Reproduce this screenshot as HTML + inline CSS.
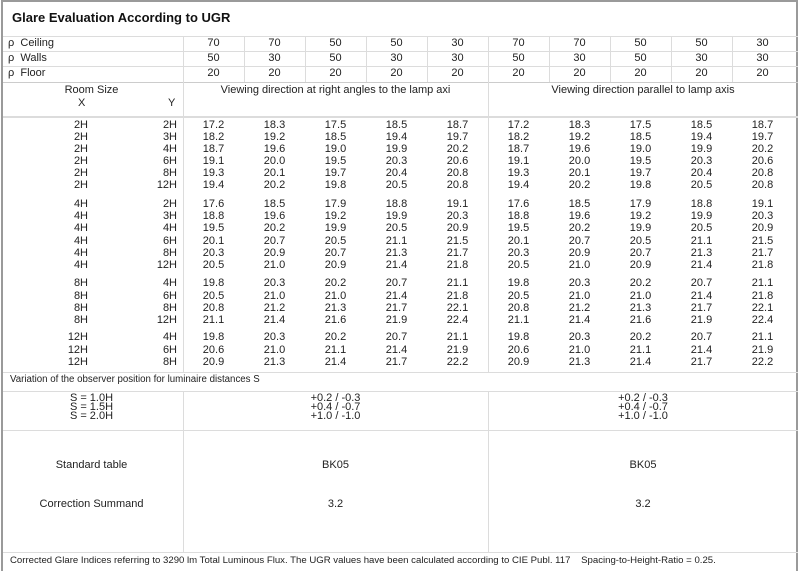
<!DOCTYPE html>
<html><head><meta charset="utf-8"><style>
*{margin:0;padding:0;box-sizing:border-box}
body{width:800px;height:571px;background:#fff;position:relative;overflow:hidden;font-family:"Liberation Sans","DejaVu Sans",sans-serif;font-size:11px;color:#222}
.a{position:absolute}
.h{position:absolute;height:1px;background:#dcdcdc}
.v{position:absolute;width:1px;background:#dcdcdc}
.r{position:absolute;left:0;height:12px;line-height:12px;display:flex;white-space:nowrap}
.x{width:88px;text-align:right}
.y{width:89px;text-align:right}
.g{width:6px}
.c{width:61px;text-align:center}
.p{position:absolute;left:0;height:15px;line-height:15px;display:flex}
.pl{width:183px;padding-left:8px}
</style></head><body>
<div class="a" style="left:1px;top:0;width:797px;height:571px;border-left:2px solid #9a9a9a;border-top:2px solid #9a9a9a;border-right:2px solid #9a9a9a"></div>
<div class="a" style="left:12px;top:10px;font-size:13px;font-weight:bold;color:#111">Glare Evaluation According to UGR</div>

<div class="h" style="left:3px;width:795px;top:36px"></div>
<div class="h" style="left:3px;width:795px;top:51px"></div>
<div class="h" style="left:3px;width:795px;top:66px"></div>
<div class="h" style="left:3px;width:795px;top:82px;background:#ccc"></div>
<div class="h" style="left:3px;width:795px;top:116px;height:2px"></div>
<div class="h" style="left:3px;width:795px;top:372px"></div>
<div class="h" style="left:3px;width:795px;top:391px"></div>
<div class="h" style="left:3px;width:795px;top:430px"></div>
<div class="h" style="left:3px;width:795px;top:552px"></div>

<div class="v" style="left:183px;top:36px;height:336px"></div>
<div class="v" style="left:488px;top:36px;height:336px"></div>
<div class="v" style="left:183px;top:391px;height:161px"></div>
<div class="v" style="left:488px;top:391px;height:161px"></div>
<div class="v" style="left:244px;top:36px;height:46px"></div>
<div class="v" style="left:305px;top:36px;height:46px"></div>
<div class="v" style="left:366px;top:36px;height:46px"></div>
<div class="v" style="left:427px;top:36px;height:46px"></div>
<div class="v" style="left:549px;top:36px;height:46px"></div>
<div class="v" style="left:610px;top:36px;height:46px"></div>
<div class="v" style="left:671px;top:36px;height:46px"></div>
<div class="v" style="left:732px;top:36px;height:46px"></div>

<div class="p" style="top:36px"><span class="pl">ρ&nbsp; Ceiling</span><span class="c">70</span><span class="c">70</span><span class="c">50</span><span class="c">50</span><span class="c">30</span><span class="c">70</span><span class="c">70</span><span class="c">50</span><span class="c">50</span><span class="c">30</span></div>
<div class="p" style="top:51px"><span class="pl">ρ&nbsp; Walls</span><span class="c">50</span><span class="c">30</span><span class="c">50</span><span class="c">30</span><span class="c">30</span><span class="c">50</span><span class="c">30</span><span class="c">50</span><span class="c">30</span><span class="c">30</span></div>
<div class="p" style="top:66px"><span class="pl">ρ&nbsp; Floor</span><span class="c">20</span><span class="c">20</span><span class="c">20</span><span class="c">20</span><span class="c">20</span><span class="c">20</span><span class="c">20</span><span class="c">20</span><span class="c">20</span><span class="c">20</span></div>

<div class="a" style="left:0;width:183px;top:84px;text-align:center">Room Size</div>
<div class="a" style="left:78px;top:97px">X</div>
<div class="a" style="left:168px;top:97px">Y</div>
<div class="a" style="left:183px;width:305px;top:84px;text-align:center">Viewing direction at right angles to the lamp axi</div>
<div class="a" style="left:488px;width:310px;top:84px;text-align:center">Viewing direction parallel to lamp axis</div>

<div class="r" style="top:119px"><span class="x">2H</span><span class="y">2H</span><span class="g"></span><span class="c">17.2</span><span class="c">18.3</span><span class="c">17.5</span><span class="c">18.5</span><span class="c">18.7</span><span class="c">17.2</span><span class="c">18.3</span><span class="c">17.5</span><span class="c">18.5</span><span class="c">18.7</span></div>
<div class="r" style="top:131px"><span class="x">2H</span><span class="y">3H</span><span class="g"></span><span class="c">18.2</span><span class="c">19.2</span><span class="c">18.5</span><span class="c">19.4</span><span class="c">19.7</span><span class="c">18.2</span><span class="c">19.2</span><span class="c">18.5</span><span class="c">19.4</span><span class="c">19.7</span></div>
<div class="r" style="top:143px"><span class="x">2H</span><span class="y">4H</span><span class="g"></span><span class="c">18.7</span><span class="c">19.6</span><span class="c">19.0</span><span class="c">19.9</span><span class="c">20.2</span><span class="c">18.7</span><span class="c">19.6</span><span class="c">19.0</span><span class="c">19.9</span><span class="c">20.2</span></div>
<div class="r" style="top:155px"><span class="x">2H</span><span class="y">6H</span><span class="g"></span><span class="c">19.1</span><span class="c">20.0</span><span class="c">19.5</span><span class="c">20.3</span><span class="c">20.6</span><span class="c">19.1</span><span class="c">20.0</span><span class="c">19.5</span><span class="c">20.3</span><span class="c">20.6</span></div>
<div class="r" style="top:167px"><span class="x">2H</span><span class="y">8H</span><span class="g"></span><span class="c">19.3</span><span class="c">20.1</span><span class="c">19.7</span><span class="c">20.4</span><span class="c">20.8</span><span class="c">19.3</span><span class="c">20.1</span><span class="c">19.7</span><span class="c">20.4</span><span class="c">20.8</span></div>
<div class="r" style="top:179px"><span class="x">2H</span><span class="y">12H</span><span class="g"></span><span class="c">19.4</span><span class="c">20.2</span><span class="c">19.8</span><span class="c">20.5</span><span class="c">20.8</span><span class="c">19.4</span><span class="c">20.2</span><span class="c">19.8</span><span class="c">20.5</span><span class="c">20.8</span></div>

<div class="r" style="top:198px"><span class="x">4H</span><span class="y">2H</span><span class="g"></span><span class="c">17.6</span><span class="c">18.5</span><span class="c">17.9</span><span class="c">18.8</span><span class="c">19.1</span><span class="c">17.6</span><span class="c">18.5</span><span class="c">17.9</span><span class="c">18.8</span><span class="c">19.1</span></div>
<div class="r" style="top:210px"><span class="x">4H</span><span class="y">3H</span><span class="g"></span><span class="c">18.8</span><span class="c">19.6</span><span class="c">19.2</span><span class="c">19.9</span><span class="c">20.3</span><span class="c">18.8</span><span class="c">19.6</span><span class="c">19.2</span><span class="c">19.9</span><span class="c">20.3</span></div>
<div class="r" style="top:222px"><span class="x">4H</span><span class="y">4H</span><span class="g"></span><span class="c">19.5</span><span class="c">20.2</span><span class="c">19.9</span><span class="c">20.5</span><span class="c">20.9</span><span class="c">19.5</span><span class="c">20.2</span><span class="c">19.9</span><span class="c">20.5</span><span class="c">20.9</span></div>
<div class="r" style="top:235px"><span class="x">4H</span><span class="y">6H</span><span class="g"></span><span class="c">20.1</span><span class="c">20.7</span><span class="c">20.5</span><span class="c">21.1</span><span class="c">21.5</span><span class="c">20.1</span><span class="c">20.7</span><span class="c">20.5</span><span class="c">21.1</span><span class="c">21.5</span></div>
<div class="r" style="top:247px"><span class="x">4H</span><span class="y">8H</span><span class="g"></span><span class="c">20.3</span><span class="c">20.9</span><span class="c">20.7</span><span class="c">21.3</span><span class="c">21.7</span><span class="c">20.3</span><span class="c">20.9</span><span class="c">20.7</span><span class="c">21.3</span><span class="c">21.7</span></div>
<div class="r" style="top:259px"><span class="x">4H</span><span class="y">12H</span><span class="g"></span><span class="c">20.5</span><span class="c">21.0</span><span class="c">20.9</span><span class="c">21.4</span><span class="c">21.8</span><span class="c">20.5</span><span class="c">21.0</span><span class="c">20.9</span><span class="c">21.4</span><span class="c">21.8</span></div>

<div class="r" style="top:277px"><span class="x">8H</span><span class="y">4H</span><span class="g"></span><span class="c">19.8</span><span class="c">20.3</span><span class="c">20.2</span><span class="c">20.7</span><span class="c">21.1</span><span class="c">19.8</span><span class="c">20.3</span><span class="c">20.2</span><span class="c">20.7</span><span class="c">21.1</span></div>
<div class="r" style="top:290px"><span class="x">8H</span><span class="y">6H</span><span class="g"></span><span class="c">20.5</span><span class="c">21.0</span><span class="c">21.0</span><span class="c">21.4</span><span class="c">21.8</span><span class="c">20.5</span><span class="c">21.0</span><span class="c">21.0</span><span class="c">21.4</span><span class="c">21.8</span></div>
<div class="r" style="top:302px"><span class="x">8H</span><span class="y">8H</span><span class="g"></span><span class="c">20.8</span><span class="c">21.2</span><span class="c">21.3</span><span class="c">21.7</span><span class="c">22.1</span><span class="c">20.8</span><span class="c">21.2</span><span class="c">21.3</span><span class="c">21.7</span><span class="c">22.1</span></div>
<div class="r" style="top:314px"><span class="x">8H</span><span class="y">12H</span><span class="g"></span><span class="c">21.1</span><span class="c">21.4</span><span class="c">21.6</span><span class="c">21.9</span><span class="c">22.4</span><span class="c">21.1</span><span class="c">21.4</span><span class="c">21.6</span><span class="c">21.9</span><span class="c">22.4</span></div>

<div class="r" style="top:331px"><span class="x">12H</span><span class="y">4H</span><span class="g"></span><span class="c">19.8</span><span class="c">20.3</span><span class="c">20.2</span><span class="c">20.7</span><span class="c">21.1</span><span class="c">19.8</span><span class="c">20.3</span><span class="c">20.2</span><span class="c">20.7</span><span class="c">21.1</span></div>
<div class="r" style="top:344px"><span class="x">12H</span><span class="y">6H</span><span class="g"></span><span class="c">20.6</span><span class="c">21.0</span><span class="c">21.1</span><span class="c">21.4</span><span class="c">21.9</span><span class="c">20.6</span><span class="c">21.0</span><span class="c">21.1</span><span class="c">21.4</span><span class="c">21.9</span></div>
<div class="r" style="top:356px"><span class="x">12H</span><span class="y">8H</span><span class="g"></span><span class="c">20.9</span><span class="c">21.3</span><span class="c">21.4</span><span class="c">21.7</span><span class="c">22.2</span><span class="c">20.9</span><span class="c">21.3</span><span class="c">21.4</span><span class="c">21.7</span><span class="c">22.2</span></div>

<div class="a" style="left:10px;top:374px;font-size:9.7px">Variation of the observer position for luminaire distances S</div>

<div class="a" style="left:0;width:183px;top:394px;text-align:center;line-height:9px">S = 1.0H<br>S = 1.5H<br>S = 2.0H</div>
<div class="a" style="left:183px;width:305px;top:394px;text-align:center;line-height:9px">+0.2 / -0.3<br>+0.4 / -0.7<br>+1.0 / -1.0</div>
<div class="a" style="left:488px;width:310px;top:394px;text-align:center;line-height:9px">+0.2 / -0.3<br>+0.4 / -0.7<br>+1.0 / -1.0</div>

<div class="a" style="left:0;width:183px;top:459px;text-align:center">Standard table</div>
<div class="a" style="left:183px;width:305px;top:459px;text-align:center">BK05</div>
<div class="a" style="left:488px;width:310px;top:459px;text-align:center">BK05</div>
<div class="a" style="left:0;width:183px;top:498px;text-align:center">Correction Summand</div>
<div class="a" style="left:183px;width:305px;top:498px;text-align:center">3.2</div>
<div class="a" style="left:488px;width:310px;top:498px;text-align:center">3.2</div>

<div class="a" style="left:10px;top:555px;font-size:9.6px;white-space:pre">Corrected Glare Indices referring to 3290 lm Total Luminous Flux. The UGR values have been calculated according to CIE Publ. 117    Spacing-to-Height-Ratio = 0.25.</div>
</body></html>
